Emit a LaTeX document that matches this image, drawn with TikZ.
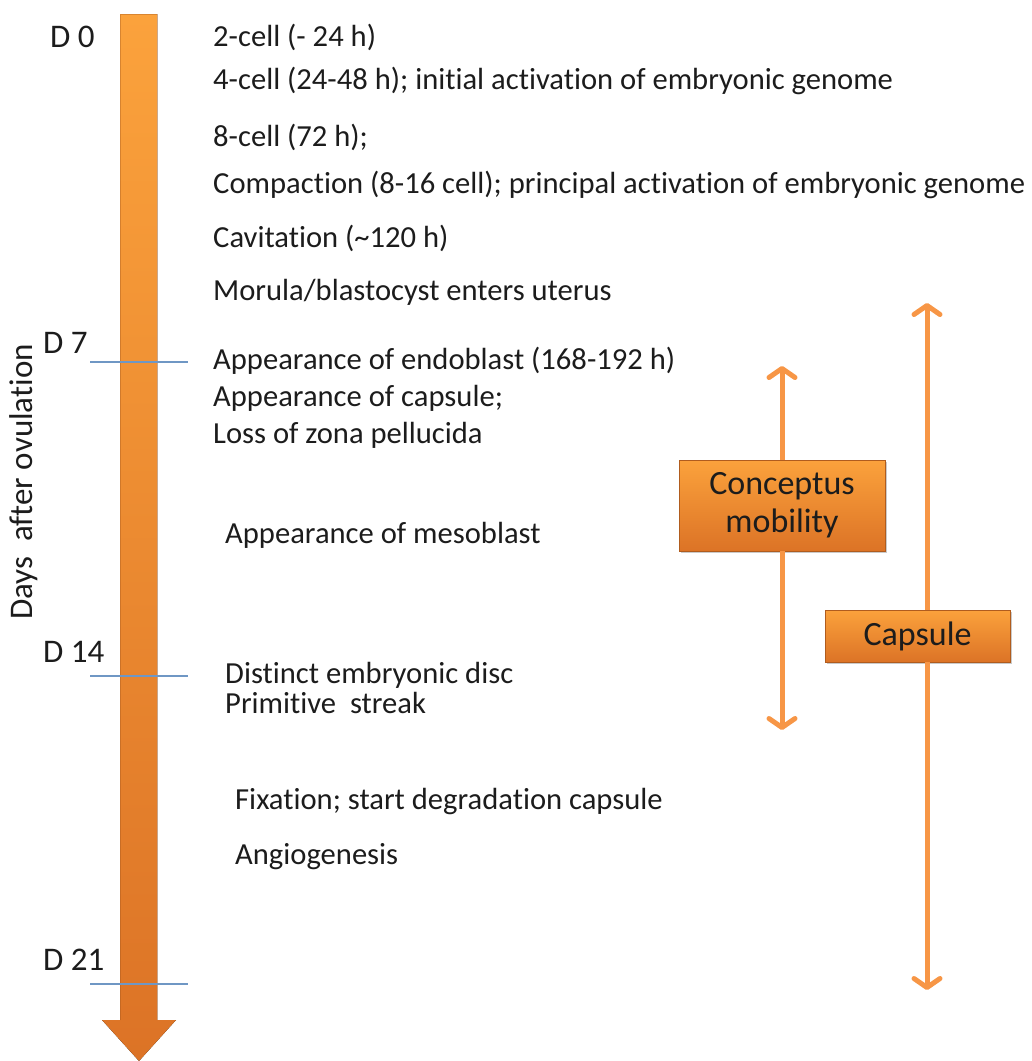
\documentclass[tikz,border=0pt]{standalone}
\usepackage{fontspec}
\setmainfont[Ligatures=NoCommon]{Carlito}
\usetikzlibrary{arrows.meta,shadows}
\definecolor{bandorange}{HTML}{F79646}
\definecolor{shafttop}{HTML}{FBA23C}
\definecolor{shaftbot}{HTML}{DC7326}
\definecolor{tickblue}{HTML}{6F97C4}
\definecolor{inkgray}{HTML}{1C1C1C}
\tikzset{
	event/.style={anchor=mid west, inner sep=0pt, text=inkgray, font=\fontsize{30.6}{35}\selectfont},
	daylabel/.style={anchor=west, inner sep=0pt, text=inkgray, font=\fontsize{33}{38}\selectfont},
	daytick/.style={tickblue, line width=1.3pt},
	phasebox/.style={draw=shaftbot!80!black, line width=0.8pt, top color=shafttop, bottom color=shaftbot,
		align=center, text=inkgray, font=\fontsize{34}{38}\selectfont,
		drop shadow={shadow xshift=2pt, shadow yshift=-2pt, opacity=0.35, fill=black!60}},
	span/.style={bandorange, line width=5pt, -{Straight Barb[length=9pt,width=26pt,round]}}
}
\begin{document}
\begin{tikzpicture}[x=10pt,y=-10pt]
	\useasboundingbox (0,0) rectangle (103.2,106.1);

	% time axis
	\fill [top color=shafttop, bottom color=shaftbot] (12.0,1.4) -- (15.7,1.4) -- (15.7,102.0) -- (17.6,102.0)
		-- (13.9,106.1) -- (10.2,102.0) -- (12.0,102.0) -- cycle;
	\draw [shaftbot!70!black, opacity=0.35, line width=0.8pt] (12.0,102.0) -- (12.0,1.4) -- (15.7,1.4) -- (15.7,102.0);

	\node [daylabel] (d0) at (5.0,3.7) {D 0};
	\foreach \n/\y/\t in {7/34.3/36.2, 14/65.2/67.6, 21/96.0/98.4} {
		\node [daylabel] (d\n) at (4.3,\y) {D \n};
		\coordinate (tl\n) at (9.0,\t);
		\coordinate (tr\n) at (18.8,\t);
		\draw [daytick] (tl\n) -- (tr\n);
	}
	\node [daylabel, anchor=center, rotate=90] (axis) at (2.4,48.2) {Days\ \ after ovulation};

	% events
	\foreach \n/\x/\y/\txt in {
		1/21.3/4.4/{2-cell (- 24 h)},
		2/21.3/8.7/{4-cell (24-48 h); initial activation of embryonic genome},
		3/21.3/14.4/{8-cell (72 h);},
		4/21.3/19.1/{Compaction (8-16 cell); principal activation of embryonic genome},
		5/21.3/24.5/{Cavitation (\textasciitilde120 h)},
		6/21.3/29.8/{Morula/blastocyst enters uterus},
		7/21.3/36.7/{Appearance of endoblast (168-192 h)},
		8/21.3/40.4/{Appearance of capsule;},
		9/21.3/44.1/{Loss of zona pellucida},
		10/22.5/54.1/{Appearance of mesoblast},
		11/22.5/68.1/{Distinct embryonic disc},
		12/22.5/71.1/{Primitive\ \ streak},
		13/23.5/80.7/{Fixation; start degradation capsule},
		14/23.5/86.2/{Angiogenesis}} {
		\node [event] (ev\n) at (\x,\y) {\txt};
	}

	% phases
	\node [phasebox, minimum width=206pt, minimum height=91pt] (mob) at (78.2,50.55) {Conceptus\\mobility};
	\node [phasebox, minimum width=185pt, minimum height=52pt] (caps) at (91.75,63.6) {Capsule};
	\coordinate (mobtop) at (78.2,36.6);
	\coordinate (mobbot) at (78.2,73.0);
	\coordinate (capstop) at (92.7,30.3);
	\coordinate (capsbot) at (92.7,99.0);
	\draw [span] (mobtop |- mob.north) -- (mobtop);
	\draw [span] (mobbot |- mob.south) -- (mobbot);
	\draw [span] (capstop |- caps.north) -- (capstop);
	\draw [span] (capsbot |- caps.south) -- (capsbot);
\end{tikzpicture}
\end{document}
